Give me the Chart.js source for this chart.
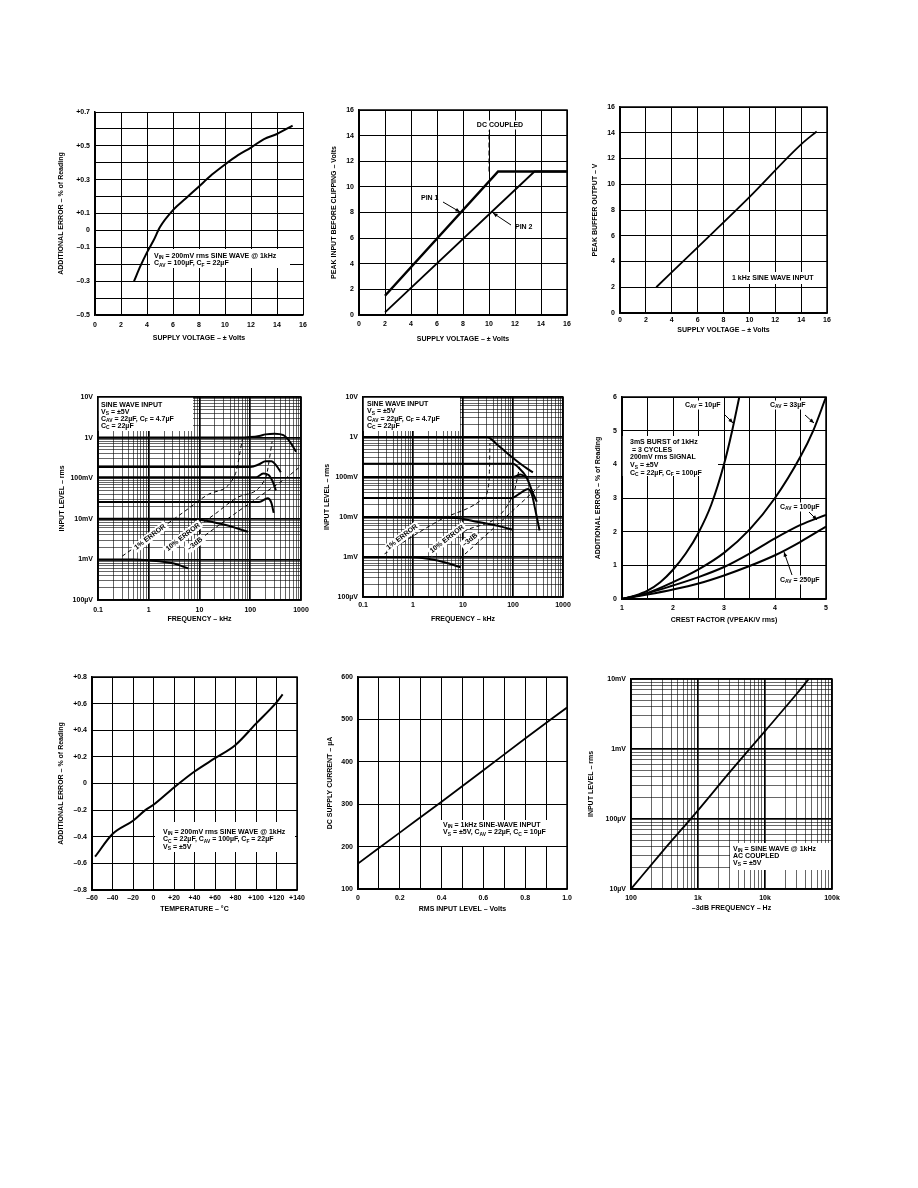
<!DOCTYPE html>
<html>
<head>
<meta charset="utf-8">
<script src="https://cdn.jsdelivr.net/npm/chart.js@4.4.1/dist/chart.umd.min.js"></script>
<style>
html, body { margin: 0; padding: 0; background: #fff; }
body { width: 918px; height: 1188px; position: relative; overflow: hidden; }
canvas { position: absolute; }
</style>
</head>
<body>
<canvas id="c1"></canvas><canvas id="c2"></canvas><canvas id="c3"></canvas>
<canvas id="c4"></canvas><canvas id="c5"></canvas><canvas id="c6"></canvas>
<canvas id="c7"></canvas><canvas id="c8"></canvas><canvas id="c9"></canvas>
<script>
// ---- data ----

// 1: additional error vs supply
var c1Supply = [3, 3.5, 4, 4.5, 5, 6, 7, 8, 9, 10, 11, 12, 13, 14, 15.2];
var c1Error = [-0.30, -0.21, -0.13, -0.06, 0.02, 0.12, 0.19, 0.26, 0.33, 0.39, 0.445, 0.49, 0.54, 0.57, 0.62];

// 2: peak input before clipping
var c2SupplyPin1 = [2, 10.7, 16];
var c2Pin1 = [1.5, 11.2, 11.2];
var c2SupplyPin2 = [2, 13.5, 16];
var c2Pin2 = [0.2, 11.2, 11.2];
var c2DcSupply = [10, 10];
var c2DcLevel = [11.2, 14.4];

// 3: peak buffer output
var c3Supply = [2.8, 6, 10, 14, 15.2];
var c3Output = [2.0, 5.1, 9.0, 13.1, 14.1];

// 4: input level vs frequency (kHz, volts)
var c4Freq1V = [0.1, 10, 60, 100, 150, 200, 300, 450, 600, 800];
var c4Level1V = [1, 1, 1, 1.03, 1.1, 1.2, 1.25, 1.15, 0.8, 0.45];
var c4Freq200m = [0.1, 100, 150, 200, 260, 330, 400];
var c4Level200m = [0.19, 0.19, 0.22, 0.26, 0.26, 0.2, 0.14];
var c4Freq100m = [0.1, 130, 180, 230, 280, 320];
var c4Level100m = [0.105, 0.105, 0.13, 0.12, 0.08, 0.05];
var c4Freq30m = [0.1, 150, 220, 260, 290];
var c4Level30m = [0.026, 0.026, 0.032, 0.025, 0.014];
var c4Freq10m = [0.1, 5, 10, 30, 90];
var c4Level10m = [0.01, 0.01, 0.0095, 0.0072, 0.0048];
var c4Freq1m = [0.1, 0.5, 1, 3, 6];
var c4Level1m = [0.001, 0.001, 0.00095, 0.0008, 0.0006];
var c4Err1Freq = [0.3, 1, 5, 15, 50, 70];
var c4Err1Level = [0.0012, 0.0035, 0.015, 0.04, 0.12, 0.9];
var c4Err10Freq = [2, 5, 20, 60, 200, 270];
var c4Err10Level = [0.0017, 0.0037, 0.013, 0.035, 0.1, 0.8];
var c4Db3Freq = [6, 15, 40, 200, 500, 900];
var c4Db3Level = [0.0019, 0.0045, 0.011, 0.045, 0.1, 0.18];

// 5: input level vs frequency, second part
var c5Freq1V = [0.1, 30, 50, 100, 170, 250];
var c5Level1V = [1, 1, 0.62, 0.3, 0.18, 0.13];
var c5Freq200m = [0.1, 100, 130, 185, 260, 300];
var c5Level200m = [0.215, 0.215, 0.17, 0.1, 0.035, 0.024];
var c5Freq100m = [0.1, 100, 140, 185];
var c5Level100m = [0.1, 0.1, 0.115, 0.1];
var c5Freq30m = [0.1, 95, 150, 200, 240, 290, 340];
var c5Level30m = [0.03, 0.03, 0.042, 0.05, 0.035, 0.012, 0.0046];
var c5Freq10m = [0.1, 7, 20, 50, 100];
var c5Level10m = [0.01, 0.0095, 0.0075, 0.006, 0.0048];
var c5Freq1m = [0.1, 0.8, 2, 5, 9];
var c5Level1m = [0.001, 0.001, 0.0009, 0.0007, 0.00055];
var c5Err1Freq = [0.27, 3.4, 25, 32, 34, 34.5];
var c5Err1Level = [0.0012, 0.0083, 0.029, 0.056, 0.2, 0.7];
var c5Err10Freq = [2.2, 10, 100, 136];
var c5Err10Level = [0.001, 0.0042, 0.035, 0.18];
var c5Db3Freq = [8.6, 50, 342];
var c5Db3Level = [0.0009, 0.0066, 0.06];

// 6: additional error vs crest factor
var c6Crest10 = [1, 1.25, 1.5, 1.75, 2, 2.25, 2.5, 2.75, 3, 3.16, 3.3];
var c6Err10 = [0, 0.1, 0.25, 0.5, 0.87, 1.35, 1.97, 2.8, 4.0, 5.0, 6.0];
var c6Crest33 = [1, 1.5, 2, 2.5, 3, 3.5, 4, 4.5, 4.75, 5];
var c6Err33 = [0, 0.18, 0.5, 0.88, 1.37, 2.06, 3.0, 4.23, 5.0, 6.0];
var c6Crest100 = [1, 1.5, 2, 2.5, 3, 3.5, 4, 4.5, 5];
var c6Err100 = [0, 0.17, 0.4, 0.65, 0.95, 1.35, 1.8, 2.2, 2.5];
var c6Crest250 = [1, 1.5, 2, 2.5, 3, 3.5, 4, 4.5, 5];
var c6Err250 = [0, 0.13, 0.28, 0.46, 0.7, 0.98, 1.3, 1.7, 2.15];

// 7: additional error vs temperature
var c7Temp = [-57, -40, -20, -8, 0, 20, 40, 60, 80, 100, 120, 126];
var c7Error = [-0.55, -0.38, -0.28, -0.20, -0.16, -0.03, 0.09, 0.19, 0.29, 0.45, 0.61, 0.67];

// 8: dc supply current vs rms input
var c8Input = [0, 0.2, 0.4, 0.6, 0.8, 1.0];
var c8Current = [160, 233, 306, 380, 455, 528];

// 9: input level vs -3dB frequency
var c9Freq = [100, 300, 1000, 3000, 10000, 30000, 45000];
var c9Level = [1.0e-5, 3.5e-5, 1.33e-4, 4.7e-4, 1.8e-3, 6.2e-3, 1.0e-2];

// tick labels
var voltTicks = [0, 2, 4, 6, 8, 10, 12, 14, 16];
var voltLabels = ['0', '2', '4', '6', '8', '10', '12', '14', '16'];
var c1ErrGrid = [-0.5, -0.4, -0.3, -0.2, -0.1, 0, 0.1, 0.2, 0.3, 0.4, 0.5, 0.6, 0.7];
var c1ErrTicks = [0.7, 0.5, 0.3, 0.1, 0, -0.1, -0.3, -0.5];
var c1ErrLabels = ['+0.7', '+0.5', '+0.3', '+0.1', '0', '\u20130.1', '\u20130.3', '\u20130.5'];
var khzTicks = [0.1, 1, 10, 100, 1000];
var khzLabels = ['0.1', '1', '10', '100', '1000'];
var levelTicks = [1e-4, 1e-3, 0.01, 0.1, 1, 10];
var levelLabels = ['100\u00b5V', '1mV', '10mV', '100mV', '1V', '10V'];
var crestGrid = [1, 1.5, 2, 2.5, 3, 3.5, 4, 4.5, 5];
var crestTicks = [1, 2, 3, 4, 5];
var crestLabels = ['1', '2', '3', '4', '5'];
var pctTicks = [0, 1, 2, 3, 4, 5, 6];
var pctLabels = ['0', '1', '2', '3', '4', '5', '6'];
var tempTicks = [-60, -40, -20, 0, 20, 40, 60, 80, 100, 120, 140];
var tempLabels = ['\u201360', '\u201340', '\u201320', '0', '+20', '+40', '+60', '+80', '+100', '+120', '+140'];
var c7ErrTicks = [-0.8, -0.6, -0.4, -0.2, 0, 0.2, 0.4, 0.6, 0.8];
var c7ErrLabels = ['\u20130.8', '\u20130.6', '\u20130.4', '\u20130.2', '0', '+0.2', '+0.4', '+0.6', '+0.8'];
var rmsGrid = [0, 0.1, 0.2, 0.3, 0.4, 0.5, 0.6, 0.7, 0.8, 0.9, 1.0];
var rmsTicks = [0, 0.2, 0.4, 0.6, 0.8, 1.0];
var rmsLabels = ['0', '0.2', '0.4', '0.6', '0.8', '1.0'];
var currentTicks = [100, 200, 300, 400, 500, 600];
var currentLabels = ['100', '200', '300', '400', '500', '600'];
var hzTicks = [100, 1000, 10000, 100000];
var hzLabels = ['100', '1k', '10k', '100k'];
var c9LevelTicks = [1e-5, 1e-4, 1e-3, 1e-2];
var c9LevelLabels = ['10\u00b5V', '100\u00b5V', '1mV', '10mV'];

// ---- page placement of each plot box (page px) ----
var layouts = {
    c1: { L: 95, T: 112, R: 303, B: 315, yt: 34, xl: 10, xt: 23 },
    c2: { L: 359, T: 110, R: 567, B: 315, yt: 25, xl: 9, xt: 24 },
    c3: { L: 620, T: 107, R: 827, B: 313, yt: 25, xl: 7, xt: 17 },
    c4: { L: 98, T: 397, R: 301, B: 600, yt: 36, xl: 10, xt: 19 },
    c5: { L: 363, T: 397, R: 563, B: 597, yt: 36, xl: 8, xt: 22 },
    c6: { L: 622, T: 397, R: 826, B: 599, yt: 24, xl: 9, xt: 21 },
    c7: { L: 92, T: 677, R: 297, B: 890, yt: 31, xl: 8, xt: 19 },
    c8: { L: 358, T: 677, R: 567, B: 889, yt: 28, xl: 9, xt: 20 },
    c9: { L: 631, T: 679, R: 832, B: 889, yt: 40, xl: 9, xt: 19 }
};

// notes drawn on top, offsets from plot's top-left
var notes = {
    c1: { frame: false, boxes: [[55, 137, 140, 19]],
        texts: [{ x: 59, y: 144, lines: ['V_{IN} = 200mV rms SINE WAVE @ 1kHz', 'C_{AV} = 100\u00b5F, C_{F} = 22\u00b5F'] }] },
    c2: { frame: true,
        texts: [{ x: 141, y: 15, lines: ['DC COUPLED'], align: 'center', bg: true },
            { x: 62, y: 88, lines: ['PIN 1'] }, { x: 156, y: 117, lines: ['PIN 2'] }],
        arrows: [[84, 92, 101, 102], [152, 115, 134, 103]] },
    c3: { frame: true, boxes: [[105, 165, 100, 12]],
        texts: [{ x: 112, y: 171, lines: ['1 kHz SINE WAVE INPUT'] }] },
    c4: { frame: true, boxes: [[0, 0, 95, 34]],
        texts: [{ x: 3, y: 8, lh: 7, lines: ['SINE WAVE INPUT', 'V_{S} = \u00b15V', 'C_{AV} = 22\u00b5F, C_{F} = 4.7\u00b5F', 'C_{C} = 22\u00b5F'] },
            { x: 52, y: 140, rot: -38, align: 'center', bg: true, lines: ['1% ERROR'] },
            { x: 85, y: 140, rot: -38, align: 'center', bg: true, lines: ['10% ERROR'] },
            { x: 97, y: 147, rot: -38, align: 'center', bg: true, lines: ['\u20133dB'] }] },
    c5: { frame: true, boxes: [[0, 0, 97, 34]],
        texts: [{ x: 4, y: 7, lh: 7.3, lines: ['SINE WAVE INPUT', 'V_{S} = \u00b15V', 'C_{AV} = 22\u00b5F, C_{F} = 4.7\u00b5F', 'C_{C} = 22\u00b5F'] },
            { x: 39, y: 140, rot: -38, align: 'center', bg: true, lines: ['1% ERROR'] },
            { x: 84, y: 142, rot: -38, align: 'center', bg: true, lines: ['10% ERROR'] },
            { x: 107, y: 143, rot: -38, align: 'center', bg: true, lines: ['\u20133dB'] }] },
    c6: { frame: true, boxes: [[0, 39, 96, 40]],
        texts: [{ x: 63, y: 8, lines: ['C_{AV} = 10\u00b5F'], bg: true },
            { x: 148, y: 8, lines: ['C_{AV} = 33\u00b5F'], bg: true },
            { x: 8, y: 45, lh: 7.7, lines: ['3mS BURST of 1kHz', ' = 3 CYCLES', '200mV rms SIGNAL', 'V_{S} = \u00b15V', 'C_{C} = 22\u00b5F, C_{F} = 100\u00b5F'] },
            { x: 158, y: 110, lines: ['C_{AV} = 100\u00b5F'], bg: true },
            { x: 158, y: 183, lines: ['C_{AV} = 250\u00b5F'], bg: true }],
        arrows: [[103, 18, 111, 26], [183, 18, 192, 26], [187, 115, 195, 123], [170, 178, 162, 155]] },
    c7: { frame: true, boxes: [[63, 145, 140, 30]],
        texts: [{ x: 71, y: 155, lh: 7.5, lines: ['V_{IN} = 200mV rms SINE WAVE @ 1kHz', 'C_{C} = 22\u00b5F, C_{AV} = 100\u00b5F, C_{F} = 22\u00b5F', 'V_{S} = \u00b15V'] }] },
    c8: { frame: true, boxes: [[82, 143, 126, 26]],
        texts: [{ x: 85, y: 148, lh: 7.5, lines: ['V_{IN} = 1kHz SINE-WAVE INPUT', 'V_{S} = \u00b15V, C_{AV} = 22\u00b5F, C_{C} = 10\u00b5F'] }] },
    c9: { frame: true, boxes: [[99, 164, 101, 27]],
        texts: [{ x: 102, y: 170, lh: 7, lines: ['V_{IN} = SINE WAVE @ 1kHz', 'AC COUPLED', 'V_{S} = \u00b15V'] }] }
};

var FONT = '"Liberation Sans", Arial, sans-serif';
Chart.defaults.font.family = FONT;
Chart.defaults.font.size = 7;
Chart.defaults.font.weight = 'bold';
Chart.defaults.color = '#000';

function pts(xs, ys) {
    return xs.map((x, i) => ({ x: x, y: ys[i] }));
}

function curve(xs, ys, extra) {
    return Object.assign({
        data: pts(xs, ys), borderColor: '#000', borderWidth: 2, pointRadius: 0,
        cubicInterpolationMode: 'monotone', fill: false
    }, extra || {});
}

function dashed(xs, ys) {
    return curve(xs, ys, { borderWidth: 1, borderDash: [4, 3] });
}

function labeler(vals, labels) {
    return function (v) {
        for (let i = 0; i < vals.length; i++) {
            if (Math.abs(v - vals[i]) <= Math.abs(vals[i]) * 1e-6 + 1e-9) return labels[i];
        }
        return '';
    };
}

// gridlines 1..9 x 10^n across the decades
function logGrid(lo, hi) {
    let out = [];
    for (let e = Math.round(Math.log10(lo)); e < Math.round(Math.log10(hi)); e++) {
        for (let m = 1; m < 10; m++) out.push(m * Math.pow(10, e));
    }
    out.push(hi);
    return out;
}

function isDecade(v) {
    let l = Math.log10(v);
    return Math.abs(l - Math.round(l)) < 1e-6;
}

function scaleOpts(ax, isX, size, tickPad) {
    return {
        type: ax.type || 'linear',
        min: ax.min, max: ax.max,
        afterBuildTicks: s => { s.ticks = ax.grid.map(v => ({ value: v })); },
        afterFit: s => { if (isX) s.height = size; else s.width = size; },
        grid: {
            color: '#000', drawTicks: false,
            lineWidth: c => {
                if (ax.type !== 'logarithmic' || !c.tick) return 1;
                return isDecade(c.tick.value) ? 1.7 : 0.6;
            }
        },
        border: { color: '#000', width: 1.5 },
        ticks: { autoSkip: false, maxRotation: 0, padding: tickPad, callback: labeler(ax.vals, ax.labels) },
        title: { display: true, text: ax.title, padding: 0 }
    };
}

// subscripts written as _{..}
function richParts(s) {
    return s.split(/(_\{[^}]*\})/).filter(p => p.length);
}
function richWidth(ctx, s, size) {
    let w = 0;
    richParts(s).forEach(p => {
        let sub = p.startsWith('_{');
        ctx.font = 'bold ' + (sub ? size * 0.7 : size) + 'px ' + FONT;
        w += ctx.measureText(sub ? p.slice(2, -1) : p).width;
    });
    return w;
}
function drawRich(ctx, s, x, y, size) {
    let cx = x;
    richParts(s).forEach(p => {
        let sub = p.startsWith('_{');
        let t = sub ? p.slice(2, -1) : p;
        ctx.font = 'bold ' + (sub ? size * 0.7 : size) + 'px ' + FONT;
        ctx.fillText(t, cx, sub ? y + size * 0.3 : y);
        cx += ctx.measureText(t).width;
    });
}

function drawNote(ctx, a, t) {
    let size = t.size || 7;
    ctx.save();
    ctx.translate(a.left + t.x, a.top + t.y);
    if (t.rot) ctx.rotate(t.rot * Math.PI / 180);
    ctx.textBaseline = 'middle';
    ctx.textAlign = 'left';
    t.lines.forEach((s, i) => {
        let w = richWidth(ctx, s, size);
        let x0 = t.align === 'center' ? -w / 2 : 0;
        let y0 = i * (t.lh || 7.5);
        if (t.bg) {
            ctx.fillStyle = '#fff';
            ctx.fillRect(x0 - 2, y0 - size / 2 - 1, w + 4, size + 2);
        }
        ctx.fillStyle = '#000';
        drawRich(ctx, s, x0, y0, size);
    });
    ctx.restore();
}

function drawArrow(ctx, x1, y1, x2, y2) {
    ctx.lineWidth = 1;
    ctx.beginPath(); ctx.moveTo(x1, y1); ctx.lineTo(x2, y2); ctx.stroke();
    let ang = Math.atan2(y2 - y1, x2 - x1), len = 5;
    ctx.beginPath();
    ctx.moveTo(x2, y2);
    ctx.lineTo(x2 - len * Math.cos(ang - 0.4), y2 - len * Math.sin(ang - 0.4));
    ctx.lineTo(x2 - len * Math.cos(ang + 0.4), y2 - len * Math.sin(ang + 0.4));
    ctx.closePath(); ctx.fill();
}

Chart.register({
    id: 'sheetNotes',
    beforeDatasetsDraw(chart) {
        let n = notes[chart.canvas.id], a = chart.chartArea, ctx = chart.ctx;
        if (!n || !n.boxes) return;
        ctx.save();
        ctx.fillStyle = '#fff';
        n.boxes.forEach(b => ctx.fillRect(a.left + b[0], a.top + b[1], b[2], b[3]));
        ctx.restore();
    },
    afterDatasetsDraw(chart) {
        let n = notes[chart.canvas.id], a = chart.chartArea, ctx = chart.ctx;
        if (!n) return;
        ctx.save();
        ctx.strokeStyle = '#000'; ctx.fillStyle = '#000';
        if (n.frame) {
            ctx.lineWidth = 1.5;
            ctx.strokeRect(a.left, a.top, a.right - a.left, a.bottom - a.top);
        }
        (n.arrows || []).forEach(r => drawArrow(ctx, a.left + r[0], a.top + r[1], a.left + r[2], a.top + r[3]));
        (n.texts || []).forEach(t => drawNote(ctx, a, t));
        ctx.restore();
    }
});

function makeSheet(id, xAxis, yAxis, datasets) {
    let lay = layouts[id];
    let padL = Math.round(lay.yt + 4), padB = Math.round(lay.xt + 4), padT = 10, padR = 14;
    let cv = document.getElementById(id);
    cv.width = lay.R - lay.L + padL + padR;
    cv.height = lay.B - lay.T + padT + padB;
    cv.style.left = (lay.L - padL) + 'px';
    cv.style.top = (lay.T - padT) + 'px';
    return new Chart(cv, {
        type: 'line',
        data: { datasets: datasets },
        options: {
            responsive: false, animation: false, events: [],
            layout: { padding: { top: padT, right: padR, left: 0, bottom: 0 } },
            plugins: { legend: { display: false }, tooltip: { enabled: false } },
            scales: {
                x: scaleOpts(xAxis, true, padB, lay.xl - 4),
                y: scaleOpts(yAxis, false, padL, 5)
            }
        }
    });
}

var supplyAxis = { min: 0, max: 16, grid: voltTicks, vals: voltTicks, labels: voltLabels, title: 'SUPPLY VOLTAGE \u2013 \u00b1 Volts' };
var khzAxis = { type: 'logarithmic', min: 0.1, max: 1000, grid: logGrid(0.1, 1000), vals: khzTicks, labels: khzLabels, title: 'FREQUENCY \u2013 kHz' };
var levelAxis = { type: 'logarithmic', min: 1e-4, max: 10, grid: logGrid(1e-4, 10), vals: levelTicks, labels: levelLabels, title: 'INPUT LEVEL \u2013 rms' };

makeSheet('c1', supplyAxis,
    { min: -0.5, max: 0.7, grid: c1ErrGrid, vals: c1ErrTicks, labels: c1ErrLabels, title: 'ADDITIONAL ERROR \u2013 % of Reading' },
    [curve(c1Supply, c1Error)]);

makeSheet('c2', supplyAxis,
    { min: 0, max: 16, grid: voltTicks, vals: voltTicks, labels: voltLabels, title: 'PEAK INPUT BEFORE CLIPPING \u2013 Volts' },
    [curve(c2SupplyPin1, c2Pin1, { borderWidth: 2.5, cubicInterpolationMode: 'default', tension: 0 }),
     curve(c2SupplyPin2, c2Pin2, { borderWidth: 1.8, cubicInterpolationMode: 'default', tension: 0 }),
     curve(c2DcSupply, c2DcLevel, { borderWidth: 1, borderDash: [5, 3], cubicInterpolationMode: 'default', tension: 0 })]);

makeSheet('c3', supplyAxis,
    { min: 0, max: 16, grid: voltTicks, vals: voltTicks, labels: voltLabels, title: 'PEAK BUFFER OUTPUT \u2013 V' },
    [curve(c3Supply, c3Output, { borderWidth: 1.8 })]);

makeSheet('c4', khzAxis, levelAxis, [
    curve(c4Freq1V, c4Level1V), curve(c4Freq200m, c4Level200m), curve(c4Freq100m, c4Level100m),
    curve(c4Freq30m, c4Level30m), curve(c4Freq10m, c4Level10m), curve(c4Freq1m, c4Level1m),
    dashed(c4Err1Freq, c4Err1Level), dashed(c4Err10Freq, c4Err10Level), dashed(c4Db3Freq, c4Db3Level)]);

makeSheet('c5', khzAxis, levelAxis, [
    curve(c5Freq1V, c5Level1V), curve(c5Freq200m, c5Level200m), curve(c5Freq100m, c5Level100m),
    curve(c5Freq30m, c5Level30m), curve(c5Freq10m, c5Level10m), curve(c5Freq1m, c5Level1m),
    dashed(c5Err1Freq, c5Err1Level), dashed(c5Err10Freq, c5Err10Level), dashed(c5Db3Freq, c5Db3Level)]);

makeSheet('c6',
    { min: 1, max: 5, grid: crestGrid, vals: crestTicks, labels: crestLabels, title: 'CREST FACTOR (VPEAK/V rms)' },
    { min: 0, max: 6, grid: pctTicks, vals: pctTicks, labels: pctLabels, title: 'ADDITIONAL ERROR \u2013 % of Reading' },
    [curve(c6Crest10, c6Err10), curve(c6Crest33, c6Err33), curve(c6Crest100, c6Err100), curve(c6Crest250, c6Err250)]);

makeSheet('c7',
    { min: -60, max: 140, grid: tempTicks, vals: tempTicks, labels: tempLabels, title: 'TEMPERATURE \u2013 \u00b0C' },
    { min: -0.8, max: 0.8, grid: c7ErrTicks, vals: c7ErrTicks, labels: c7ErrLabels, title: 'ADDITIONAL ERROR \u2013 % of Reading' },
    [curve(c7Temp, c7Error)]);

makeSheet('c8',
    { min: 0, max: 1, grid: rmsGrid, vals: rmsTicks, labels: rmsLabels, title: 'RMS INPUT LEVEL \u2013 Volts' },
    { min: 100, max: 600, grid: currentTicks, vals: currentTicks, labels: currentLabels, title: 'DC SUPPLY CURRENT \u2013 \u00b5A' },
    [curve(c8Input, c8Current, { borderWidth: 1.8 })]);

makeSheet('c9',
    { type: 'logarithmic', min: 100, max: 100000, grid: logGrid(100, 100000), vals: hzTicks, labels: hzLabels, title: '\u20133dB FREQUENCY \u2013 Hz' },
    { type: 'logarithmic', min: 1e-5, max: 1e-2, grid: logGrid(1e-5, 1e-2), vals: c9LevelTicks, labels: c9LevelLabels, title: 'INPUT LEVEL \u2013 rms' },
    [curve(c9Freq, c9Level, { borderWidth: 1.8 })]);
</script>
</body>
</html>
